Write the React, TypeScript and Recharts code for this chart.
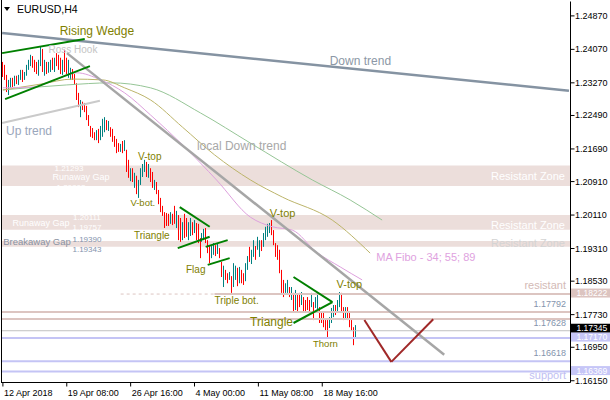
import React from 'react';
import {
  ComposedChart,
  Bar,
  Line,
  XAxis,
  YAxis,
  ReferenceLine,
  ReferenceArea,
  ReferenceDot,
} from 'recharts';

// ---------- DATA ----------
// H4 candles: [open, high, low, close]
const candles: [number, number, number, number][] = [
  [1.2372, 1.2377, 1.2341, 1.2346], [1.2348, 1.237, 1.2334, 1.2339], [1.2339, 1.2346, 1.2305, 1.231],
  [1.231, 1.2334, 1.2298, 1.2327], [1.2324, 1.2339, 1.2315, 1.2334], [1.2334, 1.2339, 1.2317, 1.2322],
  [1.2322, 1.2344, 1.2319, 1.2339], [1.2339, 1.2344, 1.2324, 1.2329], [1.2329, 1.2346, 1.2322, 1.2341],
  [1.2341, 1.2358, 1.2334, 1.2353], [1.2353, 1.2358, 1.2329, 1.2336], [1.2336, 1.2353, 1.2334, 1.2348],
  [1.2348, 1.237, 1.2344, 1.2365], [1.2365, 1.2382, 1.2358, 1.2377], [1.2377, 1.2394, 1.2367, 1.2389],
  [1.2389, 1.2391, 1.2363, 1.237], [1.237, 1.2382, 1.2353, 1.236], [1.236, 1.2377, 1.2348, 1.2353],
  [1.2353, 1.2382, 1.2344, 1.2372], [1.2372, 1.2413, 1.2367, 1.2406], [1.2406, 1.2408, 1.2353, 1.2363],
  [1.2363, 1.2382, 1.2344, 1.2374], [1.2374, 1.2377, 1.2348, 1.2355], [1.2355, 1.2377, 1.2351, 1.237],
  [1.237, 1.2382, 1.2353, 1.2377], [1.2377, 1.2387, 1.2358, 1.2365], [1.2365, 1.2387, 1.2353, 1.2382],
  [1.2382, 1.2398, 1.2367, 1.2372], [1.2372, 1.2394, 1.2358, 1.2363], [1.2363, 1.2387, 1.2348, 1.2353],
  [1.2353, 1.2382, 1.2346, 1.2377], [1.2377, 1.2406, 1.2353, 1.2358], [1.2358, 1.2387, 1.2348, 1.2353],
  [1.2353, 1.2382, 1.2339, 1.2372], [1.2344, 1.2363, 1.2334, 1.2358], [1.2358, 1.236, 1.2334, 1.2339],
  [1.2339, 1.2348, 1.2322, 1.2324], [1.2324, 1.2326, 1.2286, 1.2291], [1.2291, 1.2303, 1.2269, 1.2274],
  [1.2274, 1.2286, 1.2245, 1.2279], [1.2279, 1.2282, 1.2262, 1.2267], [1.2272, 1.2279, 1.2257, 1.2262],
  [1.2262, 1.2272, 1.2238, 1.2243], [1.2243, 1.225, 1.2224, 1.2229], [1.2224, 1.2224, 1.2198, 1.2202],
  [1.2209, 1.2219, 1.2195, 1.22], [1.2202, 1.2209, 1.219, 1.2193], [1.2193, 1.2214, 1.219, 1.2207],
  [1.2207, 1.2217, 1.2183, 1.2188], [1.219, 1.2224, 1.219, 1.2219], [1.2214, 1.2241, 1.2198, 1.2233],
  [1.2229, 1.2245, 1.2209, 1.2238], [1.2238, 1.2238, 1.2214, 1.2219], [1.2217, 1.2236, 1.2212, 1.2229],
  [1.2221, 1.2221, 1.2198, 1.2202], [1.2205, 1.2217, 1.2186, 1.219], [1.219, 1.22, 1.2174, 1.2178],
  [1.2181, 1.2193, 1.2159, 1.2164], [1.2176, 1.2183, 1.2162, 1.2167], [1.2164, 1.2181, 1.2162, 1.2176],
  [1.2176, 1.2188, 1.2159, 1.2167], [1.2167, 1.219, 1.2164, 1.2183], [1.2167, 1.2167, 1.2114, 1.2119],
  [1.2123, 1.2143, 1.21, 1.2107], [1.21, 1.2123, 1.2092, 1.2116], [1.2116, 1.2123, 1.209, 1.2095],
  [1.2088, 1.2112, 1.2076, 1.2105], [1.2102, 1.2105, 1.2061, 1.2071], [1.2064, 1.2095, 1.2052, 1.2088],
  [1.2088, 1.2123, 1.2083, 1.2116], [1.2114, 1.2133, 1.2102, 1.2128], [1.2123, 1.2143, 1.2114, 1.2138],
  [1.2135, 1.2138, 1.2102, 1.2109], [1.2107, 1.2133, 1.21, 1.2126], [1.2123, 1.2123, 1.209, 1.2095],
  [1.21, 1.2114, 1.2076, 1.2083], [1.2076, 1.2095, 1.2071, 1.209], [1.2088, 1.209, 1.2061, 1.2066],
  [1.2068, 1.2071, 1.2037, 1.2042], [1.2047, 1.2052, 1.2018, 1.2023], [1.2026, 1.2033, 1.2009, 1.2014],
  [1.2014, 1.2018, 1.198, 1.1985], [1.1999, 1.2016, 1.1985, 1.199], [1.2004, 1.2014, 1.1985, 1.1992],
  [1.1994, 1.2018, 1.199, 1.2014], [1.2011, 1.2014, 1.1987, 1.1994], [1.2028, 1.2033, 1.199, 1.1999],
  [1.199, 1.2021, 1.198, 1.2014], [1.2011, 1.2011, 1.1951, 1.1956], [1.1994, 1.2004, 1.1947, 1.1961],
  [1.1956, 1.1994, 1.1951, 1.1985], [1.2004, 1.2014, 1.1956, 1.1966], [1.1994, 1.2004, 1.1959, 1.1971],
  [1.1961, 1.1994, 1.1951, 1.1985], [1.1971, 1.2004, 1.1961, 1.1994], [1.199, 1.1994, 1.1963, 1.1971],
  [1.1971, 1.1999, 1.1968, 1.199], [1.199, 1.1992, 1.1951, 1.1956], [1.198, 1.199, 1.1944, 1.1951],
  [1.1951, 1.1956, 1.1908, 1.1916], [1.1951, 1.1968, 1.1947, 1.1963], [1.1956, 1.1978, 1.1951, 1.1973],
  [1.1975, 1.198, 1.1944, 1.1949], [1.1949, 1.1951, 1.192, 1.1928], [1.1932, 1.1937, 1.1896, 1.1904],
  [1.1908, 1.1937, 1.1908, 1.193], [1.1923, 1.1944, 1.1916, 1.1939], [1.1937, 1.1939, 1.1913, 1.1918],
  [1.1923, 1.1944, 1.1918, 1.1937], [1.1932, 1.1932, 1.1908, 1.1913], [1.1899, 1.1899, 1.1863, 1.1868],
  [1.1861, 1.189, 1.1839, 1.1885], [1.188, 1.188, 1.1856, 1.1861], [1.1865, 1.1872, 1.1848, 1.1853],
  [1.1858, 1.1875, 1.1856, 1.187], [1.1865, 1.1865, 1.1825, 1.1832], [1.1844, 1.1896, 1.1839, 1.189],
  [1.1868, 1.189, 1.1856, 1.1885], [1.188, 1.1885, 1.1841, 1.1848], [1.1851, 1.1887, 1.1848, 1.188],
  [1.1877, 1.188, 1.1848, 1.1856], [1.1868, 1.1872, 1.1844, 1.1851], [1.1856, 1.1896, 1.1853, 1.189],
  [1.189, 1.1913, 1.188, 1.1908], [1.1928, 1.1935, 1.1899, 1.1904], [1.1899, 1.1928, 1.1894, 1.1923],
  [1.1918, 1.1951, 1.1911, 1.1944], [1.1937, 1.1937, 1.1904, 1.1911], [1.1928, 1.1959, 1.1928, 1.1951],
  [1.1923, 1.1951, 1.1911, 1.1944], [1.1947, 1.1951, 1.1925, 1.193], [1.1937, 1.1968, 1.1935, 1.1961],
  [1.1956, 1.1983, 1.1951, 1.1978], [1.1971, 1.199, 1.1959, 1.1985], [1.1975, 1.1992, 1.1968, 1.1987],
  [1.199, 1.1999, 1.1963, 1.1971], [1.1973, 1.1975, 1.1939, 1.1944], [1.1944, 1.1944, 1.1911, 1.1916],
  [1.1932, 1.1939, 1.1904, 1.1911], [1.1923, 1.1928, 1.1872, 1.188], [1.188, 1.188, 1.1825, 1.1832],
  [1.1851, 1.1856, 1.1815, 1.1822], [1.1827, 1.1848, 1.1825, 1.1844], [1.1832, 1.1856, 1.1825, 1.1851],
  [1.1839, 1.1839, 1.1815, 1.1822], [1.1815, 1.1839, 1.1808, 1.1834], [1.1825, 1.1825, 1.1777, 1.1784],
  [1.1789, 1.1832, 1.1784, 1.1825], [1.182, 1.182, 1.1777, 1.1784], [1.1813, 1.1825, 1.1791, 1.1796],
  [1.1801, 1.1827, 1.1796, 1.1822], [1.1815, 1.1815, 1.1777, 1.1784], [1.1803, 1.1808, 1.1779, 1.1786],
  [1.1808, 1.1815, 1.1784, 1.1791], [1.1806, 1.1808, 1.1779, 1.1784], [1.1796, 1.1825, 1.1791, 1.1818],
  [1.1803, 1.1803, 1.176, 1.1767], [1.1794, 1.1815, 1.1789, 1.1808], [1.1789, 1.1825, 1.1779, 1.1818],
  [1.1791, 1.1791, 1.1753, 1.176], [1.1774, 1.1779, 1.1753, 1.1758], [1.1772, 1.1777, 1.1743, 1.1748],
  [1.176, 1.176, 1.1736, 1.1741], [1.1755, 1.176, 1.1717, 1.1724], [1.1743, 1.1767, 1.1741, 1.1762],
  [1.176, 1.1789, 1.1753, 1.1782], [1.1777, 1.1796, 1.1767, 1.1791], [1.1794, 1.1796, 1.1772, 1.1777],
  [1.1782, 1.1808, 1.1777, 1.1806], [1.1796, 1.1827, 1.1791, 1.1822], [1.182, 1.1825, 1.1777, 1.1784],
  [1.1789, 1.1791, 1.176, 1.1767], [1.1767, 1.1791, 1.1765, 1.1786], [1.1786, 1.1791, 1.176, 1.1765],
  [1.1774, 1.1779, 1.1743, 1.1751], [1.1755, 1.176, 1.1736, 1.1741], [1.1743, 1.1743, 1.17, 1.1712],
  [1.1717, 1.1748, 1.1717, 1.17345],
];

// MA Fibo 34 / 55 / 89 read at [bar index, price]
const ma34Points: [number, number][] = [
  [0, 1.2315], [15, 1.2317], [26, 1.2334], [37, 1.2351], [49, 1.2334], [61, 1.2303], [74, 1.225],
  [91, 1.2174], [107, 1.2095], [124, 1.2006], [135, 1.1983], [145, 1.1975], [157, 1.1923],
  [169, 1.1887], [180, 1.1856],
];
const ma55Points: [number, number][] = [
  [0, 1.231], [19, 1.2324], [35, 1.2336], [50, 1.2334], [61, 1.2315], [74, 1.2286], [90, 1.2221],
  [106, 1.2155], [124, 1.2095], [140, 1.2054], [165, 1.1999], [184, 1.192],
];
const ma89Points: [number, number][] = [
  [0, 1.231], [32, 1.2322], [54, 1.2327], [74, 1.2315], [99, 1.2255], [124, 1.2183], [155, 1.2095],
  [174, 1.2047], [190, 1.1999],
];

const xTicks = [0, 32, 64, 96, 128, 160];
const xTickLabels = ['12 Apr 2018', '19 Apr 08:00', '26 Apr 16:00', '4 May 00:00', '11 May 08:00', '18 May 16:00'];
const yTicks = [1.2487, 1.2407, 1.2327, 1.2249, 1.2169, 1.2091, 1.2011, 1.1931, 1.1853, 1.1773, 1.1695, 1.1615];

const gapZones: [number, number][] = [
  [1.20802, 1.21293],
  [1.19757, 1.20111],
  [1.1935, 1.1949],
];
const resistantLevel = 1.18222;
const pinkLevels = [1.17792, 1.17628];
const lastPrice = 1.17345;
const supportLevels = [1.1717, 1.16618, 1.16369];

// trend lines [bar index, price]
const downTrend: [number, number][] = [[-0.4, 1.2446], [283.6, 1.2308]];
const upTrend: [number, number][] = [[-0.4, 1.2231], [48.6, 1.2284]];
const localDownTrend: [number, number][] = [[32.1, 1.2398], [221.1, 1.1677]];
const greenLines: [number, number][][] = [
  [[-0.4, 1.2398], [41, 1.2432]],
  [[1.1, 1.2288], [43.6, 1.2367]],
  [[88.6, 1.203], [103.6, 1.1983]],
  [[87.6, 1.1932], [103.6, 1.1959]],
  [[101.6, 1.1935], [112.6, 1.1951]],
  [[102.6, 1.1892], [113.6, 1.1908]],
  [[145.6, 1.1863], [165.1, 1.1803]],
  [[145.6, 1.1753], [165.1, 1.1803]],
];
const projection: [number, number][] = [[181.1, 1.176], [194.6, 1.166], [215.6, 1.1762]];

type Note = { x: number; y: number; text: string; kind: string };
const notes: Note[] = [
  { x: 47.1, y: 1.2451, text: 'Rising Wedge', kind: 'pat12' },
  { x: 35.1, y: 1.2406, text: 'Ross Hook', kind: 'ross' },
  { x: 179.1, y: 1.2379, text: 'Down trend', kind: 'down' },
  { x: 13.1, y: 1.2212, text: 'Up trend', kind: 'up' },
  { x: 119.6, y: 1.2176, text: 'local Down trend', kind: 'local' },
  { x: 73.6, y: 1.215, text: 'V-top', kind: 'pat10' },
  { x: 70.1, y: 1.204, text: 'V-bot.', kind: 'pat9' },
  { x: 74.6, y: 1.1963, text: 'Triangle', kind: 'pat10' },
  { x: 96.6, y: 1.188, text: 'Flag', kind: 'pat10' },
  { x: 117.1, y: 1.1806, text: 'Triple bot.', kind: 'pat10' },
  { x: 140.1, y: 1.2016, text: 'V-top', kind: 'pat11' },
  { x: 134.6, y: 1.1755, text: 'Triangle', kind: 'pat12' },
  { x: 173.6, y: 1.1846, text: 'V-top', kind: 'pat11' },
  { x: 161.6, y: 1.1703, text: 'Thorn', kind: 'pat9' },
  { x: 187.1, y: 1.1911, text: 'MA Fibo - 34; 55; 89', kind: 'ma' },
  { x: 281.6, y: 1.2104, text: 'Resistant Zone', kind: 'zone' },
  { x: 281.6, y: 1.1987, text: 'Resistant Zone', kind: 'zone' },
  { x: 281.6, y: 1.1944, text: 'Resistant Zone', kind: 'zoneGray' },
  { x: 282.1, y: 1.1844, text: 'resistant', kind: 'resist' },
  { x: 282.1, y: 1.1629, text: 'support', kind: 'support' },
  { x: 282.1, y: 1.1798, text: '1.17792', kind: 'levelNum' },
  { x: 282.1, y: 1.1753, text: '1.17628', kind: 'levelNum' },
  { x: 282.1, y: 1.1681, text: '1.16618', kind: 'levelNum' },
  { x: 33.1, y: 1.2123, text: '1.21293', kind: 'gapNum' },
  { x: 39.1, y: 1.2101, text: 'Runaway Gap', kind: 'gapText' },
  { x: 34.1, y: 1.2078, text: '1.20802', kind: 'gapNum' },
  { x: 19.1, y: 1.1992, text: 'Runaway Gap', kind: 'gapText' },
  { x: 42.1, y: 1.2004, text: '1.20111', kind: 'gapNum' },
  { x: 42.1, y: 1.1982, text: '1.19757', kind: 'gapNum' },
  { x: 17.1, y: 1.1947, text: 'Breakaway Gap', kind: 'breakaway' },
  { x: 42.1, y: 1.1952, text: '1.19390', kind: 'breakNum' },
  { x: 42.1, y: 1.1929, text: '1.19343', kind: 'breakNum' },
];

// ---------- STYLES ----------
const SANS = '"Liberation Sans", Arial, sans-serif';
const RED = '#ff0000';
const TEAL = '#008080';
const OLIVE = '#808000';
const ZONE = '#ecdedb';
const PINK_LINE = '#dcc5c1';
const LAV = '#c4c4f5';

const noteStyle: Record<string, { fill: string; size: number; anchor: 'start' | 'middle' | 'end' }> = {
  pat12: { fill: OLIVE, size: 12, anchor: 'middle' },
  pat11: { fill: OLIVE, size: 11, anchor: 'middle' },
  pat10: { fill: OLIVE, size: 10, anchor: 'middle' },
  pat9: { fill: OLIVE, size: 9.5, anchor: 'middle' },
  ross: { fill: '#c4c4c4', size: 10, anchor: 'middle' },
  down: { fill: '#8c98a6', size: 12, anchor: 'middle' },
  up: { fill: '#9aa6bb', size: 12, anchor: 'middle' },
  local: { fill: '#a8a8a8', size: 12, anchor: 'middle' },
  ma: { fill: '#e0a2e0', size: 11, anchor: 'start' },
  zone: { fill: '#ffffff', size: 11, anchor: 'end' },
  zoneGray: { fill: '#d4d4d4', size: 11, anchor: 'end' },
  resist: { fill: '#d3bab6', size: 11, anchor: 'end' },
  support: { fill: '#c0c0f2', size: 11, anchor: 'end' },
  levelNum: { fill: '#8494ad', size: 9, anchor: 'end' },
  gapNum: { fill: '#ffffff', size: 8, anchor: 'middle' },
  gapText: { fill: '#ffffff', size: 9, anchor: 'middle' },
  breakaway: { fill: '#8a92a2', size: 9.5, anchor: 'middle' },
  breakNum: { fill: '#8494ad', size: 8, anchor: 'middle' },
};

// ---------- TABLE ----------
const toMap = (pts: [number, number][]) => {
  const m: Record<number, number> = {};
  pts.forEach(([i, v]) => (m[i] = v));
  return m;
};
const m34 = toMap(ma34Points);
const m55 = toMap(ma55Points);
const m89 = toMap(ma89Points);
const rows = Array.from({ length: 191 }, (_, i) => {
  const c = candles[i];
  return {
    i,
    o: c ? c[0] : undefined,
    h: c ? c[1] : undefined,
    l: c ? c[2] : undefined,
    c: c ? c[3] : undefined,
    ma34: m34[i],
    ma55: m55[i],
    ma89: m89[i],
  };
});

const CandleShape = (props: any) => {
  const { x, y, width, height, payload } = props;
  if (!payload || payload.h == null || !isFinite(y) || !isFinite(height)) return null;
  const cx = Math.floor(x + width / 2);
  const top = Math.min(y, y + height);
  const h = Math.max(1, Math.abs(height));
  const bull = payload.c >= payload.o;
  return <rect x={cx} y={top} width={1} height={h} fill={bull ? TEAL : RED} />;
};

const XTick = (p: any) => {
  const idx = xTicks.indexOf(p.payload.value);
  return (
    <text x={p.x + 1} y={p.y + 4} fontSize={9} fontFamily={SANS} fill="#000" textAnchor="start" dominantBaseline="central">
      {xTickLabels[idx]}
    </text>
  );
};

const YTick = (p: any) => (
  <text x={p.x - 1.5} y={p.y} fontSize={9} fontFamily={SANS} fill="#000" textAnchor="start" dominantBaseline="central">
    {Number(p.payload.value).toFixed(5)}
  </text>
);

const priceTag = (value: number, bg: string, lift: number) => (props: any) => {
  const vb = props.viewBox || {};
  const right = (vb.x || 0) + (vb.width || 0);
  const y = (vb.y || 0) - lift;
  return (
    <g>
      <rect x={right + 0.5} y={y - 4.5} width={40} height={9} fill={bg} />
      <text x={right + 6} y={y} fontSize={8.5} fontFamily={SANS} fill="#ffffff" dominantBaseline="central">
        {value.toFixed(5)}
      </text>
    </g>
  );
};

const noteLabel = (n: Note) => (props: any) => {
  const vb = props.viewBox || {};
  const s = noteStyle[n.kind];
  return (
    <text x={vb.x} y={vb.y} fontSize={s.size} fontFamily={SANS} fill={s.fill} textAnchor={s.anchor} dominantBaseline="central">
      {n.text}
    </text>
  );
};

const seg = (p: [number, number][]) => p.map(([x, y]) => ({ x, y }));

export default function App() {
  const X0 = -0.45;
  const X1 = 284.37;
  return (
    <div style={{ position: 'absolute', left: 0, top: 0, width: 610, height: 400, background: '#fff', overflow: 'hidden' }}>
      <ComposedChart width={610} height={400} data={rows} margin={{ top: 1.5, right: 0, bottom: 0, left: 2 }}>
        <XAxis
          dataKey="i"
          type="number"
          domain={[X0, X1]}
          allowDataOverflow
          ticks={xTicks}
          interval={0}
          tick={<XTick />}
          tickSize={4}
          tickMargin={2}
          height={17.5}
          axisLine={{ stroke: '#000' }}
          tickLine={{ stroke: '#000' }}
        />
        <YAxis
          orientation="right"
          type="number"
          domain={[1.16108, 1.25214]}
          allowDataOverflow
          ticks={yTicks}
          interval={0}
          tick={<YTick />}
          tickSize={4}
          tickMargin={2}
          width={39.5}
          axisLine={{ stroke: '#000' }}
          tickLine={{ stroke: '#000' }}
        />

        {gapZones.map(([a, b], k) => (
          <ReferenceArea key={'z' + k} x1={X0} x2={X1} y1={a} y2={b} fill={ZONE} fillOpacity={1} stroke="none" ifOverflow="visible" />
        ))}

        <ReferenceLine
          segment={[{ x: 59, y: resistantLevel }, { x: 106, y: resistantLevel }]}
          stroke={PINK_LINE}
          strokeWidth={1}
          strokeDasharray="3 3"
        />
        <ReferenceLine
          segment={[{ x: 106, y: resistantLevel }, { x: X1, y: resistantLevel }]}
          stroke={PINK_LINE}
          strokeWidth={2}
        />
        <ReferenceLine y={resistantLevel} stroke="none" label={priceTag(resistantLevel, '#dcc4c0', 1)} />
        {pinkLevels.map((v) => (
          <ReferenceLine key={'p' + v} y={v} stroke={PINK_LINE} strokeWidth={2} />
        ))}
        <ReferenceLine y={lastPrice} stroke="#c0c0c0" strokeWidth={1} label={priceTag(lastPrice, '#000000', 2.5)} />
        {supportLevels.map((v, k) => (
          <ReferenceLine
            key={'s' + v}
            y={v}
            stroke={LAV}
            strokeWidth={2}
            label={k === 1 ? undefined : priceTag(v, '#c6c6f7', 1)}
          />
        ))}

        <Bar dataKey={(d: any) => (d.h == null ? null : [d.l, d.h])} barSize={1} shape={<CandleShape />} isAnimationActive={false} />

        <Line dataKey="ma89" type="monotone" stroke="#96c596" strokeWidth={1} dot={false} connectNulls isAnimationActive={false} />
        <Line dataKey="ma55" type="monotone" stroke="#bcb46a" strokeWidth={1} dot={false} connectNulls isAnimationActive={false} />
        <Line dataKey="ma34" type="monotone" stroke="#dda0dd" strokeWidth={1} dot={false} connectNulls isAnimationActive={false} />

        <ReferenceLine segment={seg(downTrend)} stroke="#8593a2" strokeWidth={2.5} />
        <ReferenceLine segment={seg(upTrend)} stroke="#cacaca" strokeWidth={2} />
        <ReferenceLine segment={seg(localDownTrend)} stroke="#a6a6a6" strokeWidth={2.5} />
        {greenLines.map((g, k) => (
          <ReferenceLine key={'g' + k} segment={seg(g)} stroke="#008000" strokeWidth={2} />
        ))}
        <ReferenceLine segment={seg([projection[0], projection[1]])} stroke="#a02828" strokeWidth={2} />
        <ReferenceLine segment={seg([projection[1], projection[2]])} stroke="#a02828" strokeWidth={2} />

        {notes.map((n, k) => (
          <ReferenceDot key={'n' + k} x={n.x} y={n.y} r={0} fill="none" stroke="none" label={noteLabel(n)} />
        ))}
      </ComposedChart>
      <div style={{ position: 'absolute', left: 1, top: 0, width: 1, height: 383, background: '#000' }} />
      <div
        style={{
          position: 'absolute',
          left: 4,
          top: 7,
          width: 0,
          height: 0,
          borderLeft: '3.5px solid transparent',
          borderRight: '3.5px solid transparent',
          borderTop: '4px solid #000',
        }}
      />
      <div
        style={{
          position: 'absolute',
          left: 17,
          top: 3,
          fontFamily: SANS,
          fontSize: 10.5,
          lineHeight: '12px',
          color: '#000',
        }}
      >
        EURUSD,H4
      </div>
    </div>
  );
}
